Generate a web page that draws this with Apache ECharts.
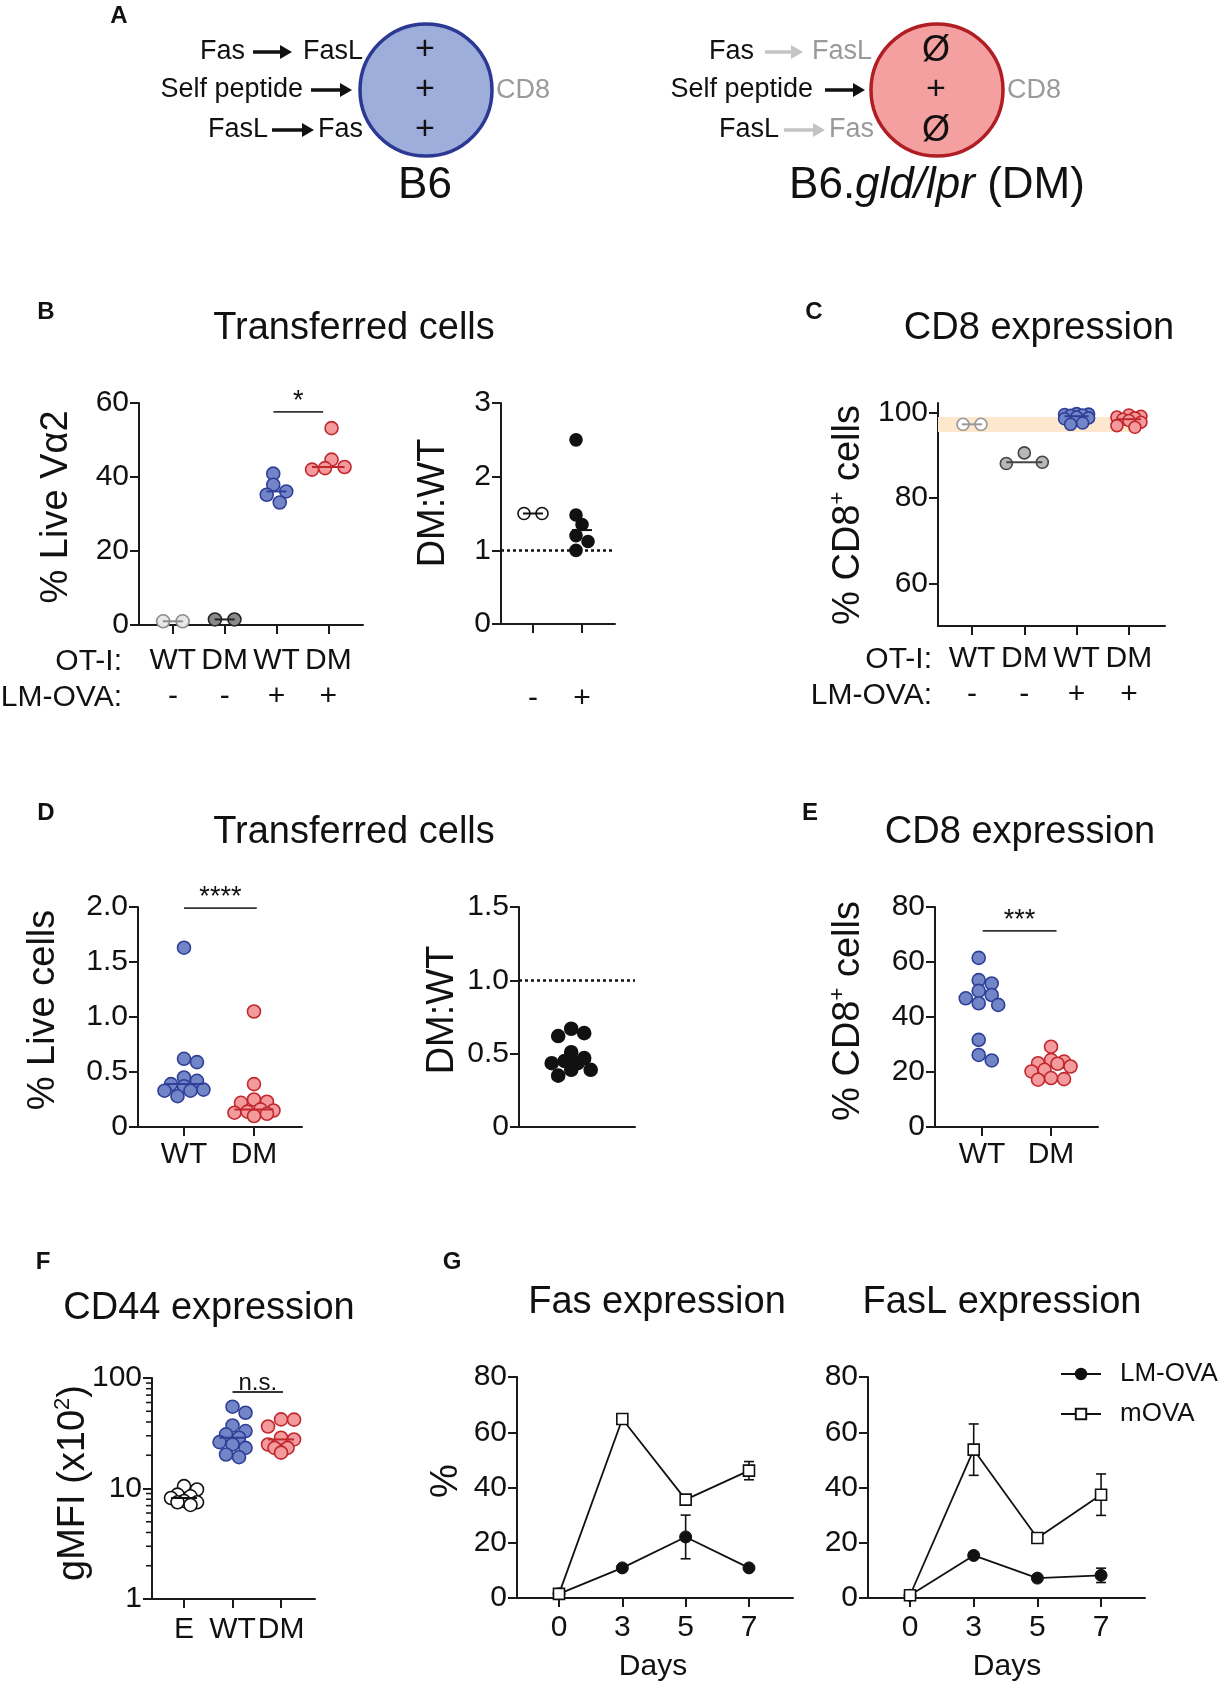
<!DOCTYPE html>
<html>
<head>
<meta charset="utf-8">
<title>Fas / FasL figure</title>
<script src="https://cdn.jsdelivr.net/npm/echarts@6/dist/echarts.min.js"></script>
<style>
  body { margin: 0; background: #fff; }
  #main { width: 1220px; height: 1684px; }
</style>
</head>
<body>
<div id="main"></div>
<script type="text/javascript">
// ---------- data ----------
var otiLabels = ['WT', 'DM', 'WT', 'DM'];
var lmLabels = ['-', '-', '+', '+'];
var ratioLabels = ['-', '+'];
var wtDmLabels = ['WT', 'DM'];
var cd44Labels = ['E', 'WT', 'DM'];
var dayLabels = ['0', '3', '5', '7'];

// B: % Live Va2
var bWtNeg = [1.0, 1.0];
var bDmNeg = [1.5, 1.5];
var bWtPos = [40.9, 37.9, 36.1, 35.2, 33.1];
var bDmPos = [53.2, 44.7, 42.7, 42.4, 42.0];
// B: DM:WT
var bRatioNeg = [1.5, 1.5];
var bRatioPos = [2.5, 1.48, 1.35, 1.2, 1.12, 1.0];
// C: % CD8+ cells
var cWtNeg = [97.3, 97.3];
var cDmNeg = [90.6, 88.4, 88.1];
var cWtPos = [99.8, 99.7, 99.6, 99.5, 99.4, 99.0, 98.8, 98.6, 97.6, 97.3];
var cDmPos = [99.5, 99.2, 99.0, 98.8, 98.5, 98.2, 97.8, 97.0, 96.6];
// D: % Live cells
var dWt = [1.63, 0.62, 0.59, 0.45, 0.42, 0.39, 0.37, 0.34, 0.33, 0.33, 0.28];
var dDm = [1.05, 0.39, 0.25, 0.23, 0.22, 0.16, 0.15, 0.14, 0.13, 0.12, 0.10];
var dRatio = [0.67, 0.64, 0.62, 0.51, 0.47, 0.45, 0.435, 0.435, 0.39, 0.39, 0.35];
// E: % CD8+ cells
var eWt = [61.5, 53.4, 52.2, 49.5, 48.0, 46.8, 45.0, 44.4, 31.7, 26.2, 24.2];
var eDm = [29.2, 24.4, 23.8, 23.2, 23.0, 22.0, 20.8, 20.2, 17.8, 17.4, 17.2];
// F: gMFI (x10^2)
var fEff = [10.5, 9.8, 8.8, 8.5, 8.2, 7.7, 7.5, 7.5, 7.1];
var fWt = [55, 48.5, 37.2, 33.1, 30.9, 28.8, 26.3, 25, 23.3, 20.3, 19.2];
var fDm = [42.2, 42, 36.4, 28.8, 27.8, 25, 23.3, 23.3, 21.1];
var logMinor = [2, 3, 4, 5, 6, 7, 8, 9, 20, 30, 40, 50, 60, 70, 80, 90];
// G: % over days (mean, sem)
var fasLm = [1.5, 10.9, 22.1, 10.9];
var fasLmSem = [0.5, 0.8, 7.9, 0.8];
var fasMova = [1.5, 64.8, 35.6, 46.1];
var fasMovaSem = [0.5, 1.8, 1.0, 3.3];
var faslLm = [1.0, 15.4, 7.2, 8.2];
var faslLmSem = [0.3, 0.8, 0.6, 2.6];
var faslMova = [1.0, 53.7, 21.7, 37.4];
var faslMovaSem = [0.3, 9.3, 1.0, 7.5];

// ---------- styles ----------
var FONT = 'Liberation Sans, Arial, Helvetica, sans-serif';
var AX = '#1a1a1a';
var TICK_FS = 30;
var TITLE_FS = 38;
var BLUE = {fill: '#7285c7', line: '#2f3f97'};
var RED = {fill: '#f39a9c', line: '#c1272d'};
var GRAY_OPEN = {fill: '#e8e8e8', line: '#8c8c8c'};
var GRAY_DARK = {fill: '#8a8a8a', line: '#222'};
var GRAY_C = {fill: '#b8b8b8', line: '#444'};
var WHITE_C = {fill: '#fff', line: '#999'};
var OPEN = {fill: '#fff', line: '#111'};
var SOLID = {fill: '#111', line: '#111'};

function median(a) {
  var s = a.slice().sort(function (x, y) { return x - y; });
  var n = s.length;
  return n % 2 ? s[(n - 1) / 2] : (s[n / 2 - 1] + s[n / 2]) / 2;
}

// simple swarm layout in pixels, so points of similar value sit side by side
function swarm(pys, d, sep, maxK) {
  var idx = pys.map(function (p, i) { return i; }).sort(function (a, b) { return pys[a] - pys[b]; });
  var placed = [], off = [];
  idx.forEach(function (i) {
    var best = 0, bestScore = -1;
    for (var k = 0; k <= maxK; k++) {
      var c = k === 0 ? 0 : (k % 2 ? 1 : -1) * Math.ceil(k / 2) * d * 0.5;
      var minD = Infinity;
      placed.forEach(function (p) {
        var dx = c - p[0], dy = pys[i] - p[1];
        minD = Math.min(minD, Math.sqrt(dx * dx + dy * dy));
      });
      if (minD >= d * sep) { best = c; break; }
      if (minD > bestScore) { bestScore = minD; best = c; }
    }
    off[i] = best;
    placed.push([best, pys[i]]);
  });
  var lo = Math.min.apply(null, off), hi = Math.max.apply(null, off), mid = (lo + hi) / 2;
  return off.map(function (o) { return o - mid; });
}

var grids = [
  {left: 139, top: 403, width: 224, height: 222},  // B left
  {left: 501, top: 403, width: 114, height: 221},  // B right
  {left: 938, top: 403, width: 227, height: 223},  // C
  {left: 138, top: 907, width: 164, height: 220},  // D left
  {left: 519, top: 907, width: 116, height: 220},  // D right
  {left: 935, top: 907, width: 163, height: 220},  // E
  {left: 152, top: 1378, width: 163, height: 221}, // F
  {left: 517, top: 1377, width: 276, height: 221}, // G Fas
  {left: 868, top: 1377, width: 277, height: 221}  // G FasL
];

function xAx(gi, min, max, ticks, labels, margin, lh) {
  var show = ticks.length > 0;
  return {
    type: 'value', gridIndex: gi, min: min, max: max,
    axisLine: {show: true, onZero: false, lineStyle: {color: AX, width: 2}},
    axisTick: {show: show, customValues: ticks, length: 9, lineStyle: {color: AX, width: 2}},
    axisLabel: {show: show, customValues: ticks, margin: margin, color: '#111',
      fontFamily: FONT, fontSize: TICK_FS, lineHeight: lh || 32,
      formatter: function (v) { return labels[Math.round(v)]; }},
    splitLine: {show: false}
  };
}
function yAx(gi, min, max, ticks, fmt) {
  return {
    type: 'value', gridIndex: gi, min: min, max: max,
    axisLine: {show: true, onZero: false, lineStyle: {color: AX, width: 2}},
    axisTick: {show: true, customValues: ticks, length: 9, lineStyle: {color: AX, width: 2}},
    axisLabel: {customValues: ticks, margin: 10, color: '#111', fontFamily: FONT, fontSize: TICK_FS,
      formatter: fmt || function (v) { return String(v); }},
    splitLine: {show: false}
  };
}
function dec(v) { return v === 0 ? '0' : v.toFixed(1); }

var bLabels = otiLabels.map(function (t, i) { return t + '\n' + lmLabels[i]; });

var xAxes = [
  xAx(0, -0.654, 3.67, [0, 1, 2, 3], bLabels, 18, 36),
  xAx(1, -0.653, 1.673, [0, 1], ratioLabels, 57, 36),
  xAx(2, -0.65, 3.69, [0, 1, 2, 3], bLabels, 15, 36),
  xAx(3, -0.657, 1.686, [0, 1], wtDmLabels, 12),
  xAx(4, -0.9, 1.1, [], [], 12),
  xAx(5, -0.68, 1.68, [0, 1], wtDmLabels, 12),
  xAx(6, -0.66, 2.70, [0, 1, 2], cd44Labels, 15),
  xAx(7, -0.663, 3.695, [0, 1, 2, 3], dayLabels, 14),
  xAx(8, -0.66, 3.69, [0, 1, 2, 3], dayLabels, 14)
];
var yAxes = [
  yAx(0, 0, 60, [0, 20, 40, 60]),
  yAx(1, 0, 3, [0, 1, 2, 3]),
  yAx(2, 50, 102.3, [60, 80, 100]),
  yAx(3, 0, 2, [0, 0.5, 1, 1.5, 2], dec),
  yAx(4, 0, 1.5, [0, 0.5, 1, 1.5], dec),
  yAx(5, 0, 80, [0, 20, 40, 60, 80]),
  {type: 'log', logBase: 10, gridIndex: 6, min: 1, max: 100,
    axisLine: {show: true, onZero: false, lineStyle: {color: AX, width: 2}},
    axisTick: {show: true, length: 9, lineStyle: {color: AX, width: 2}},
    axisLabel: {margin: 10, color: '#111', fontFamily: FONT, fontSize: TICK_FS},
    splitLine: {show: false}, minorTick: {show: false}},
  yAx(7, 0, 80, [0, 20, 40, 60, 80]),
  yAx(8, 0, 80, [0, 20, 40, 60, 80])
];

var strips = [
  {g: 0, x: 0, vals: bWtNeg, st: GRAY_OPEN, d: 13},
  {g: 0, x: 1, vals: bDmNeg, st: GRAY_DARK, d: 13},
  {g: 0, x: 2, vals: bWtPos, st: BLUE, d: 13},
  {g: 0, x: 3, vals: bDmPos, st: RED, d: 13},
  {g: 1, x: 0, vals: bRatioNeg, st: OPEN, d: 12, ref: true},
  {g: 1, x: 1, vals: bRatioPos, st: SOLID, d: 12},
  {g: 2, x: 0, vals: cWtNeg, st: WHITE_C, d: 12, band: true},
  {g: 2, x: 1, vals: cDmNeg, st: GRAY_C, d: 12},
  {g: 2, x: 2, vals: cWtPos, st: BLUE, d: 12, maxK: 4},
  {g: 2, x: 3, vals: cDmPos, st: RED, d: 12, maxK: 4},
  {g: 3, x: 0, vals: dWt, st: BLUE, d: 13},
  {g: 3, x: 1, vals: dDm, st: RED, d: 13},
  {g: 4, x: 0, vals: dRatio, st: SOLID, d: 13, ref: true},
  {g: 5, x: 0, vals: eWt, st: BLUE, d: 13, noMed: true},
  {g: 5, x: 1, vals: eDm, st: RED, d: 13, noMed: true},
  {g: 6, x: 0, vals: fEff, st: OPEN, d: 13, maxK: 4},
  {g: 6, x: 1, vals: fWt, st: BLUE, d: 13, maxK: 4},
  {g: 6, x: 2, vals: fDm, st: RED, d: 13, maxK: 4}
];

var series = [];
strips.forEach(function (s, k) {
  var pts = {
    id: 'pts' + k, type: 'scatter', xAxisIndex: s.g, yAxisIndex: s.g, z: 3,
    symbol: 'circle', symbolSize: s.d,
    itemStyle: {color: s.st.fill, borderColor: s.st.line, borderWidth: 1.6, opacity: 1},
    data: s.vals.map(function (v) { return [s.x, v]; })
  };
  if (s.ref) {
    pts.markLine = {silent: true, symbol: ['none', 'none'], label: {show: false},
      lineStyle: {type: [3, 3], color: '#111', width: 2.5}, data: [{yAxis: 1}]};
  }
  if (s.band) {
    pts.markArea = {silent: true, itemStyle: {color: '#fde8ce'},
      data: [[{xAxis: -0.65, yAxis: 95.5}, {xAxis: 3.21, yAxis: 99}]]};
  }
  series.push(pts);
  if (!s.noMed) {
    series.push({
      id: 'med' + k, type: 'custom', xAxisIndex: s.g, yAxisIndex: s.g, z: 4, silent: true,
      encode: {x: 0, y: 1},
      data: [[s.x, median(s.vals), 12]],
      renderItem: (function (col) {
        return function (p, api) {
          var c = api.coord([api.value(0), api.value(1)]);
          var hw = api.value(2);
          return {type: 'line', shape: {x1: c[0] - hw, y1: c[1], x2: c[0] + hw, y2: c[1]},
            style: {stroke: col, lineWidth: 2}};
        };
      })(s.st.line)
    });
  }
});

// significance bars
function sig(gi, x1, x2, y, text, size) {
  return {
    type: 'custom', xAxisIndex: gi, yAxisIndex: gi, z: 5, silent: true,
    encode: {x: [0, 1], y: 2}, data: [[x1, x2, y]],
    renderItem: function (p, api) {
      var a = api.coord([api.value(0), api.value(2)]);
      var b = api.coord([api.value(1), api.value(2)]);
      return {type: 'group', children: [
        {type: 'line', shape: {x1: a[0], y1: a[1], x2: b[0], y2: b[1]}, style: {stroke: '#333', lineWidth: 1.8}},
        {type: 'text', style: {text: text, x: (a[0] + b[0]) / 2, y: a[1] + 3,
          align: 'center', verticalAlign: 'bottom', textAlign: 'center', textVerticalAlign: 'bottom',
          fontFamily: FONT, fontSize: size, fill: '#111'}}
      ]};
    }
  };
}
series.push(sig(0, 1.94, 2.9, 57.6, '*', 27));
series.push(sig(3, 0, 1.04, 1.99, '****', 27));
series.push(sig(5, 0.01, 1.08, 71.3, '***', 27));
series.push(sig(6, 1, 2.04, 74.7, 'n.s.', 24));

// minor ticks on the log axis of F
series.push({
  type: 'custom', xAxisIndex: 6, yAxisIndex: 6, z: 5, silent: true,
  encode: {x: 0, y: 1},
  data: logMinor.map(function (v) { return [-0.66, v]; }),
  renderItem: function (p, api) {
    var c = api.coord([api.value(0), api.value(1)]);
    return {type: 'line', shape: {x1: c[0] - 6, y1: c[1], x2: c[0], y2: c[1]},
      style: {stroke: AX, lineWidth: 1.6}};
  }
});

// G: time courses
function errSeries(gi, vals, sems) {
  return {
    type: 'custom', xAxisIndex: gi, yAxisIndex: gi, z: 2, silent: true,
    encode: {x: 0, y: 1},
    data: vals.map(function (v, i) { return [i, v, sems[i]]; }),
    renderItem: function (p, api) {
      var x = api.value(0), m = api.value(1), s = api.value(2);
      var a = api.coord([x, m + s]), b = api.coord([x, m - s]);
      var st = {stroke: '#111', lineWidth: 1.6};
      return {type: 'group', children: [
        {type: 'line', shape: {x1: a[0], y1: a[1], x2: b[0], y2: b[1]}, style: st},
        {type: 'line', shape: {x1: a[0] - 5, y1: a[1], x2: a[0] + 5, y2: a[1]}, style: st},
        {type: 'line', shape: {x1: b[0] - 5, y1: b[1], x2: b[0] + 5, y2: b[1]}, style: st}
      ]};
    }
  };
}
function lineSeries(name, gi, vals, filled) {
  return {
    type: 'line', name: name, xAxisIndex: gi, yAxisIndex: gi, z: 3,
    data: vals.map(function (v, i) { return [i, v]; }),
    symbol: filled ? 'circle' : 'rect', symbolSize: filled ? 12 : 11,
    lineStyle: {color: '#111', width: 1.8},
    itemStyle: filled ? {color: '#111', borderColor: '#111', borderWidth: 1}
                      : {color: '#fff', borderColor: '#111', borderWidth: 1.6}
  };
}
series.push(errSeries(7, fasLm, fasLmSem), errSeries(7, fasMova, fasMovaSem));
series.push(lineSeries('LM-OVA', 7, fasLm, true), lineSeries('mOVA', 7, fasMova, false));
series.push(errSeries(8, faslLm, faslLmSem), errSeries(8, faslMova, faslMovaSem));
series.push(lineSeries('LM-OVA', 8, faslLm, true), lineSeries('mOVA', 8, faslMova, false));

// ---------- text and panel A drawing ----------
function txt(x, y, text, size, opts) {
  opts = opts || {};
  var al = opts.align || 'center';
  return {
    type: 'text', x: x, y: y, rotation: opts.rot || 0, z: 10, silent: true,
    style: {text: text, fontFamily: FONT, fontSize: size, fontWeight: opts.bold ? 'bold' : 'normal',
      fontStyle: opts.italic ? 'italic' : 'normal',
      fill: opts.color || '#111', align: al, textAlign: al,
      verticalAlign: 'middle', textVerticalAlign: 'middle', rich: opts.rich}
  };
}
function arrow(x1, x2, y, col) {
  return [
    {type: 'line', silent: true, shape: {x1: x1, y1: y, x2: x2 - 8, y2: y}, style: {stroke: col, lineWidth: 3.5}},
    {type: 'polygon', silent: true, shape: {points: [[x2, y], [x2 - 12, y - 7], [x2 - 12, y + 7]]}, style: {fill: col}}
  ];
}
var supRich = {a: {fontFamily: FONT, fontSize: TITLE_FS, lineHeight: 44, fill: '#111'},
               s: {fontFamily: FONT, fontSize: 22, lineHeight: 22, verticalAlign: 'top', fill: '#111'}};
var R90 = Math.PI / 2;
var GREY_T = '#9a9a9a';
var LIGHT_A = '#c4c4c4';

var graphics = [
  // panel A
  {type: 'circle', silent: true, shape: {cx: 426, cy: 90, r: 66}, style: {fill: '#9eaedb', stroke: '#2b3894', lineWidth: 3.5}},
  {type: 'circle', silent: true, shape: {cx: 937, cy: 90, r: 66}, style: {fill: '#f4a0a1', stroke: '#b01e24', lineWidth: 3.5}},
  txt(119, 16, 'A', 24, {bold: true}),
  txt(245, 52, 'Fas', 27, {align: 'right'}),
  txt(303, 52, 'FasL', 27, {align: 'left'}),
  txt(303, 90, 'Self peptide', 27, {align: 'right'}),
  txt(268, 130, 'FasL', 27, {align: 'right'}),
  txt(318, 130, 'Fas', 27, {align: 'left'}),
  txt(425, 50, '+', 34), txt(425, 90, '+', 34), txt(425, 130, '+', 34),
  txt(496, 91, 'CD8', 27, {align: 'left', color: GREY_T}),
  txt(425, 186, 'B6', 44),
  txt(754, 52, 'Fas', 27, {align: 'right'}),
  txt(812, 52, 'FasL', 27, {align: 'left', color: GREY_T}),
  txt(813, 90, 'Self peptide', 27, {align: 'right'}),
  txt(779, 130, 'FasL', 27, {align: 'right'}),
  txt(829, 130, 'Fas', 27, {align: 'left', color: GREY_T}),
  txt(936, 51, 'Ø', 36), txt(936, 90, '+', 34), txt(936, 131, 'Ø', 36),
  txt(1007, 91, 'CD8', 27, {align: 'left', color: GREY_T}),
  txt(937, 186, '{n|B6.}{i|gld/lpr}{n| (DM)}', 44, {rich: {
    n: {fontFamily: FONT, fontSize: 44, fill: '#111'},
    i: {fontFamily: FONT, fontSize: 44, fontStyle: 'italic', fill: '#111'}}}),
  // panel letters and titles
  txt(46, 312, 'B', 24, {bold: true}),
  txt(814, 312, 'C', 24, {bold: true}),
  txt(46, 813, 'D', 24, {bold: true}),
  txt(810, 813, 'E', 24, {bold: true}),
  txt(43, 1262, 'F', 24, {bold: true}),
  txt(452, 1262, 'G', 24, {bold: true}),
  txt(354, 329, 'Transferred cells', TITLE_FS),
  txt(1039, 329, 'CD8 expression', TITLE_FS),
  txt(354, 833, 'Transferred cells', TITLE_FS),
  txt(1020, 833, 'CD8 expression', TITLE_FS),
  txt(209, 1309, 'CD44 expression', TITLE_FS),
  txt(657, 1303, 'Fas expression', TITLE_FS),
  txt(1002, 1303, 'FasL expression', TITLE_FS),
  // axis titles
  txt(57, 507, '% Live Vα2', TITLE_FS, {rot: R90}),
  txt(434, 503, 'DM:WT', TITLE_FS, {rot: R90}),
  txt(849, 515, '{a|% CD8}{s|+}{a| cells}', TITLE_FS, {rot: R90, rich: supRich}),
  txt(44, 1010, '% Live cells', TITLE_FS, {rot: R90}),
  txt(443, 1010, 'DM:WT', TITLE_FS, {rot: R90}),
  txt(849, 1011, '{a|% CD8}{s|+}{a| cells}', TITLE_FS, {rot: R90, rich: supRich}),
  txt(74, 1483, '{a|gMFI (x10}{s|2}{a|)}', TITLE_FS, {rot: R90, rich: supRich}),
  txt(447, 1481, '%', TITLE_FS, {rot: R90}),
  txt(122, 662, 'OT-I:', TICK_FS, {align: 'right'}),
  txt(122, 698, 'LM-OVA:', TICK_FS, {align: 'right'}),
  txt(932, 660, 'OT-I:', TICK_FS, {align: 'right'}),
  txt(932, 696, 'LM-OVA:', TICK_FS, {align: 'right'}),
  txt(653, 1667, 'Days', TICK_FS),
  txt(1007, 1667, 'Days', TICK_FS)
];
graphics = graphics.concat(
  arrow(253, 292, 52, '#111'), arrow(311, 352, 90, '#111'), arrow(272, 314, 130, '#111'),
  arrow(765, 803, 52, LIGHT_A), arrow(825, 865, 90, '#111'), arrow(784, 825, 130, LIGHT_A)
);

var chart = echarts.init(document.getElementById('main'));
chart.setOption({
  animation: false,
  backgroundColor: '#fff',
  textStyle: {fontFamily: FONT},
  grid: grids,
  xAxis: xAxes,
  yAxis: yAxes,
  legend: {
    data: ['LM-OVA', 'mOVA'], orient: 'vertical', left: 1055, top: 1356,
    itemWidth: 40, itemHeight: 13, itemGap: 14,
    textStyle: {fontFamily: FONT, fontSize: 26, color: '#111', padding: [0, 0, 0, 14]}
  },
  graphic: {elements: graphics},
  series: series
});

// second pass: spread the points of each group using the axis pixel scale
var upd = [];
strips.forEach(function (s, k) {
  var pys = s.vals.map(function (v) { return chart.convertToPixel({gridIndex: s.g}, [s.x, v])[1]; });
  var small = s.vals.length <= 3;
  var off = swarm(pys, s.d, small ? 1.6 : 0.8, s.maxK || 6);
  var hw = Math.max(10, Math.max.apply(null, off.map(Math.abs)));
  upd.push({id: 'pts' + k, data: s.vals.map(function (v, i) {
    return {value: [s.x, v], symbolOffset: [off[i], 0]};
  })});
  if (!s.noMed) upd.push({id: 'med' + k, data: [[s.x, median(s.vals), hw]]});
});
chart.setOption({series: upd});
</script>
</body>
</html>
